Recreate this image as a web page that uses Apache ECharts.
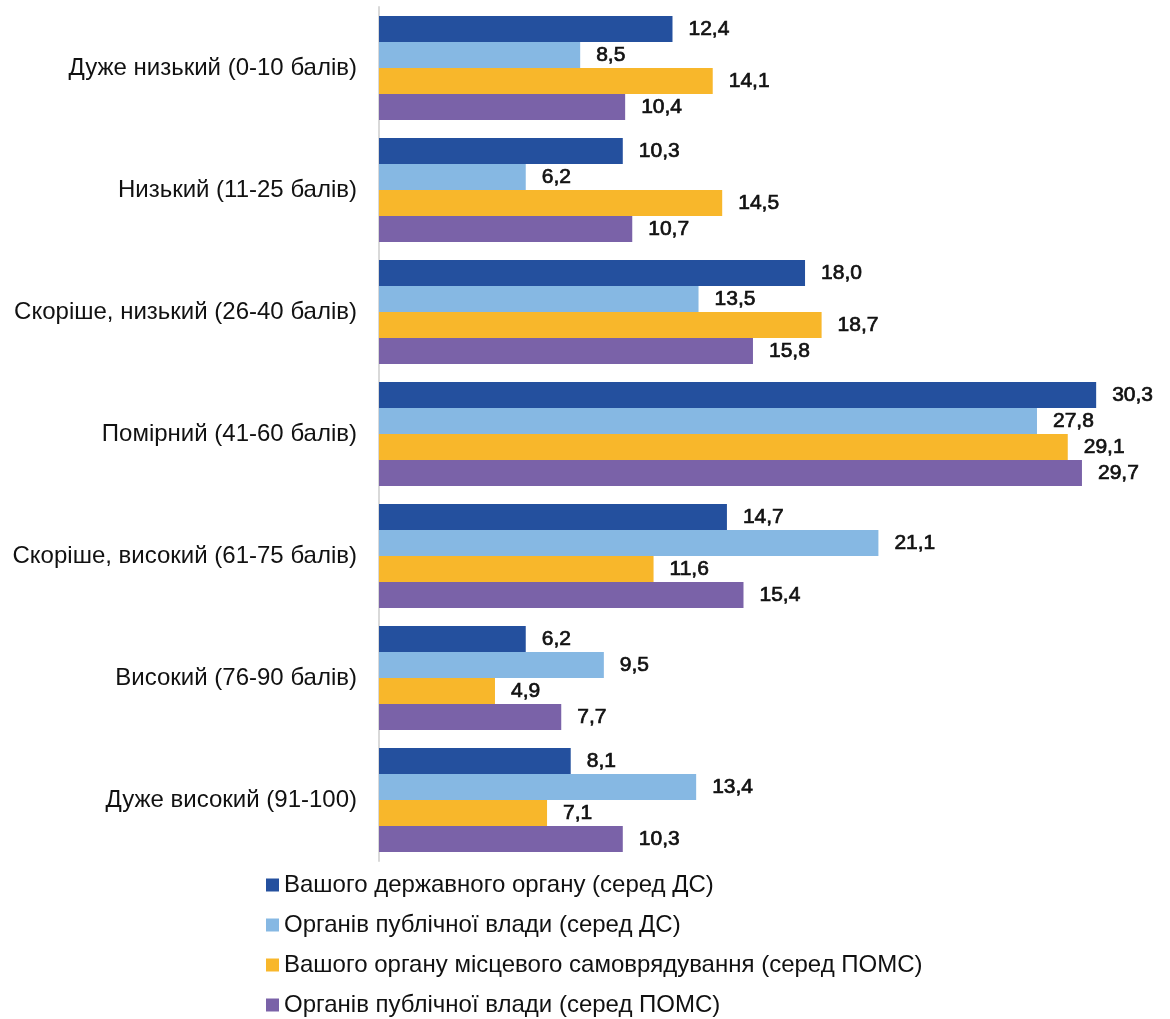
<!DOCTYPE html>
<html>
<head>
<meta charset="utf-8">
<script src="https://cdn.jsdelivr.net/npm/echarts@6/dist/echarts.min.js"></script>
<style>
  html, body { margin: 0; padding: 0; background: #ffffff; }
  #chart { width: 1170px; height: 1019px; }
</style>
</head>
<body>
<div id="chart"></div>
<script>
// Levels of trust, top to bottom
const categories = [
  'Дуже низький (0-10 балів)',
  'Низький (11-25 балів)',
  'Скоріше, низький (26-40 балів)',
  'Помірний (41-60 балів)',
  'Скоріше, високий (61-75 балів)',
  'Високий (76-90 балів)',
  'Дуже високий (91-100)'
];

const seriesNames = [
  'Вашого державного органу (серед ДС)',
  'Органів публічної влади (серед ДС)',
  'Вашого органу місцевого самоврядування (серед ПОМС)',
  'Органів публічної влади (серед ПОМС)'
];

// Shares, %
const ownStateBody = [12.4, 10.3, 18.0, 30.3, 14.7, 6.2, 8.1];
const publicAuthDS = [8.5, 6.2, 13.5, 27.8, 21.1, 9.5, 13.4];
const ownLocalGov  = [14.1, 14.5, 18.7, 29.1, 11.6, 4.9, 7.1];
const publicAuthLG = [10.4, 10.7, 15.8, 29.7, 15.4, 7.7, 10.3];

const colors = ['#24509e', '#86b8e3', '#f8b72b', '#7a62a8'];
const valueSets = [ownStateBody, publicAuthDS, ownLocalGov, publicAuthLG];

const fontFamily = '"Liberation Sans", Arial, sans-serif';

const chart = echarts.init(document.getElementById('chart'), null, { renderer: 'canvas' });

chart.setOption({
  animation: false,
  backgroundColor: '#ffffff',
  grid: { left: 379, top: 7, width: 757.4, height: 854, containLabel: false },
  legend: {
    orient: 'vertical',
    left: 266,
    top: 873,
    height: 146,
    padding: 0,
    itemWidth: 13,
    itemHeight: 13,
    itemGap: 16,
    icon: 'rect',
    textStyle: { fontFamily, fontSize: 24, color: '#111111', padding: [0, 0, 0, 0] },
    data: seriesNames
  },
  xAxis: {
    type: 'value',
    min: 0,
    max: 32,
    show: false
  },
  yAxis: {
    type: 'category',
    data: categories,
    inverse: true,
    axisTick: { show: false },
    axisLine: { show: true, lineStyle: { color: '#d9d9d9', width: 2 } },
    axisLabel: { fontFamily, fontSize: 24, color: '#111111', margin: 22 }
  },
  series: seriesNames.map((name, i) => ({
    name,
    type: 'bar',
    data: valueSets[i],
    barGap: '0%',
    barCategoryGap: '14.8%',
    itemStyle: { color: colors[i] },
    label: {
      show: true,
      position: 'right',
      distance: 16,
      fontFamily,
      fontSize: 21,
      color: '#111111',
      // a thin outline in the text colour gives a medium weight
      textBorderColor: '#111111',
      textBorderWidth: 0.7,
      formatter: p => p.value.toFixed(1).replace('.', ',')
    }
  }))
});
</script>
</body>
</html>
